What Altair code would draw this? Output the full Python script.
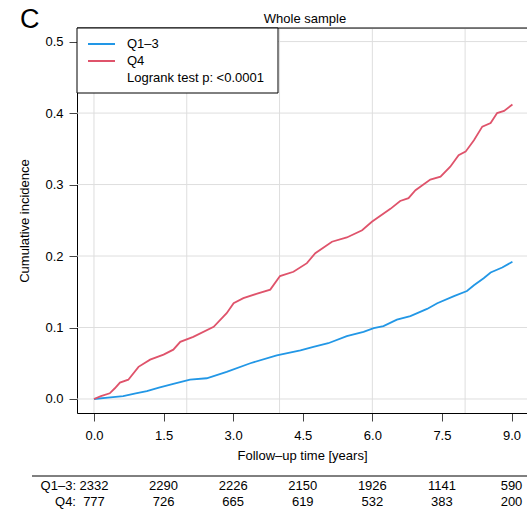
import altair as alt
import pandas as pd

# ---------------- data ----------------
groups = ["Q1–3", "Q4"]
colors = ["#2297E6", "#DF536B"]

q13_t = [0, 0.3, 0.63, 0.9, 1.14, 1.4, 1.71, 2.07, 2.43, 2.86, 3.37, 3.94, 4.45, 4.73,
         5.05, 5.45, 5.81, 6.03, 6.24, 6.53, 6.82, 7.18, 7.40, 7.76, 8.04, 8.19, 8.40,
         8.55, 8.80, 9.02]
q13_v = [0, 0.002, 0.004, 0.008, 0.011, 0.016, 0.021, 0.027, 0.029, 0.038, 0.050, 0.061,
         0.068, 0.073, 0.078, 0.088, 0.094, 0.099, 0.102, 0.111, 0.116, 0.126, 0.134,
         0.144, 0.151, 0.159, 0.169, 0.177, 0.184, 0.192]

q4_t = [0, 0.15, 0.34, 0.45, 0.56, 0.74, 0.96, 1.21, 1.5, 1.71, 1.86, 2.14, 2.58, 2.86,
        3.01, 3.22, 3.5, 3.80, 4.01, 4.30, 4.59, 4.77, 5.13, 5.45, 5.78, 5.99, 6.39,
        6.60, 6.78, 6.93, 7.25, 7.47, 7.68, 7.86, 8.01, 8.19, 8.37, 8.55, 8.69, 8.84, 9.02]
q4_v = [0, 0.004, 0.008, 0.015, 0.023, 0.027, 0.045, 0.055, 0.062, 0.069, 0.080, 0.087,
        0.101, 0.120, 0.134, 0.141, 0.147, 0.153, 0.172, 0.178, 0.190, 0.204, 0.220,
        0.226, 0.236, 0.248, 0.266, 0.277, 0.281, 0.292, 0.307, 0.311, 0.325, 0.341,
        0.346, 0.362, 0.381, 0.386, 0.400, 0.403, 0.412]

risk_times = [0, 1.5, 3, 4.5, 6, 7.5, 9]
risk_q13 = [2332, 2290, 2226, 2150, 1926, 1141, 590]
risk_q4 = [777, 726, 665, 619, 532, 383, 200]

x_ticks = [0, 1.5, 3, 4.5, 6, 7.5, 9]
y_ticks = [0, 0.1, 0.2, 0.3, 0.4, 0.5]
grid_x = [0, 2, 4, 6, 8]
grid_y = [0, 0.1, 0.2, 0.3, 0.4, 0.5]

title_text = "Whole sample"
panel_label = "C"
x_title = "Follow–up time [years]"
y_title = "Cumulative incidence"
test_text = "Logrank test p: <0.0001"

# ---------------- styling ----------------
FONT = "Liberation Sans"
FS = 13
W, H = 450, 385
xs = alt.Scale(domain=[-0.366, 9.334], nice=False, zero=False)
ys = alt.Scale(domain=[-0.0196, 0.519], nice=False, zero=False)

xax = alt.Axis(values=x_ticks, format=".1f", title=x_title, grid=False,
               domainColor="black", domainWidth=1, tickColor="#444", tickSize=8,
               labelPadding=8, labelFontSize=FS, labelFont=FONT, labelColor="black",
               labelFlush=False, labelOverlap=False,
               titleFont=FONT, titleFontSize=FS, titleFontWeight="normal",
               titleColor="black", titlePadding=7)
yax = alt.Axis(values=y_ticks, format=".1f", title=y_title, grid=False,
               domainColor="black", domainWidth=1, tickColor="#444", tickSize=8,
               labelPadding=6, labelFontSize=FS, labelFont=FONT, labelColor="black",
               labelFlush=False, labelOverlap=False,
               titleFont=FONT, titleFontSize=FS, titleFontWeight="normal",
               titleColor="black", titlePadding=13)

X = lambda f: alt.X(f, scale=xs, axis=xax)
Y = lambda f: alt.Y(f, scale=ys, axis=yax)

# ---------------- layers ----------------
gx = alt.Chart(pd.DataFrame({"t": grid_x})).mark_rule(color="#DEDEDE", strokeWidth=1).encode(x=X("t:Q"))
gy = alt.Chart(pd.DataFrame({"v": grid_y})).mark_rule(color="#DEDEDE", strokeWidth=1).encode(y=Y("v:Q"))

curves = pd.concat([
    pd.DataFrame({"t": q13_t, "v": q13_v, "group": groups[0]}),
    pd.DataFrame({"t": q4_t, "v": q4_v, "group": groups[1]}),
])
lines = alt.Chart(curves).mark_line(strokeWidth=1.8).encode(
    x=X("t:Q"), y=Y("v:Q"),
    color=alt.Color("group:N", scale=alt.Scale(domain=groups, range=colors), legend=None),
)

one = pd.DataFrame({"a": [0]})
top_line = alt.Chart(one).mark_rule(color="black", strokeWidth=1).encode(
    x=alt.value(0), x2=alt.value(W), y=alt.value(0))

# title text (above the plot box)
title_mark = alt.Chart(pd.DataFrame({"lab": [title_text]})).mark_text(
    font=FONT, fontSize=FS, align="center", baseline="alphabetic", color="black").encode(
    x=alt.value(228), y=alt.value(-5), text="lab:N")

# legend box
leg_box = alt.Chart(one).mark_rect(fill="white", stroke="black", strokeWidth=1).encode(
    x=alt.value(0), x2=alt.value(201), y=alt.value(0), y2=alt.value(65))
leg_layers = []
for i, (g, c) in enumerate(zip(groups, colors)):
    yy = 16 + 17 * i
    leg_layers.append(alt.Chart(one).mark_rule(color=c, strokeWidth=2).encode(
        x=alt.value(11), x2=alt.value(38), y=alt.value(yy)))
    leg_layers.append(alt.Chart(pd.DataFrame({"lab": [g]})).mark_text(
        font=FONT, fontSize=FS, align="left", baseline="middle", color="black").encode(
        x=alt.value(50), y=alt.value(yy), text="lab:N"))
leg_layers.append(alt.Chart(pd.DataFrame({"lab": [test_text]})).mark_text(
    font=FONT, fontSize=FS, align="left", baseline="middle", color="black").encode(
    x=alt.value(50), y=alt.value(50), text="lab:N"))

# panel label
panel = alt.Chart(pd.DataFrame({"lab": [panel_label]})).mark_text(
    font=FONT, fontSize=27, align="left", baseline="alphabetic", color="black").encode(
    x=alt.value(-57), y=alt.value(0), text="lab:N")

# risk table
sep = alt.Chart(one).mark_rule(color="black", strokeWidth=1).encode(
    x=alt.value(-45), x2=alt.value(W), y=alt.value(448))
risk_layers = []
for i, (g, vals) in enumerate(zip(groups, [risk_q13, risk_q4])):
    yy = 458 + 16 * i
    df = pd.DataFrame({"t": risk_times, "n": [str(v) for v in vals]})
    risk_layers.append(alt.Chart(df).mark_text(
        font=FONT, fontSize=FS, align="center", baseline="middle", color="black").encode(
        x=X("t:Q"), y=alt.value(yy), text="n:N"))
    risk_layers.append(alt.Chart(pd.DataFrame({"lab": [g + ":"]})).mark_text(
        font=FONT, fontSize=FS, align="right", baseline="middle", color="black").encode(
        x=alt.value(-1), y=alt.value(yy), text="lab:N"))

chart = alt.layer(gx, gy, lines, top_line, title_mark, leg_box, *leg_layers, panel, sep,
                  *risk_layers).properties(
    width=W, height=H,
    padding={"left": 77, "top": 28, "right": 0, "bottom": 100},
    autosize=alt.AutoSizeParams(type="none"),
).configure_view(stroke=None).configure(background="white")

chart.save("out.html", embed_options={"renderer": "svg", "actions": False})
